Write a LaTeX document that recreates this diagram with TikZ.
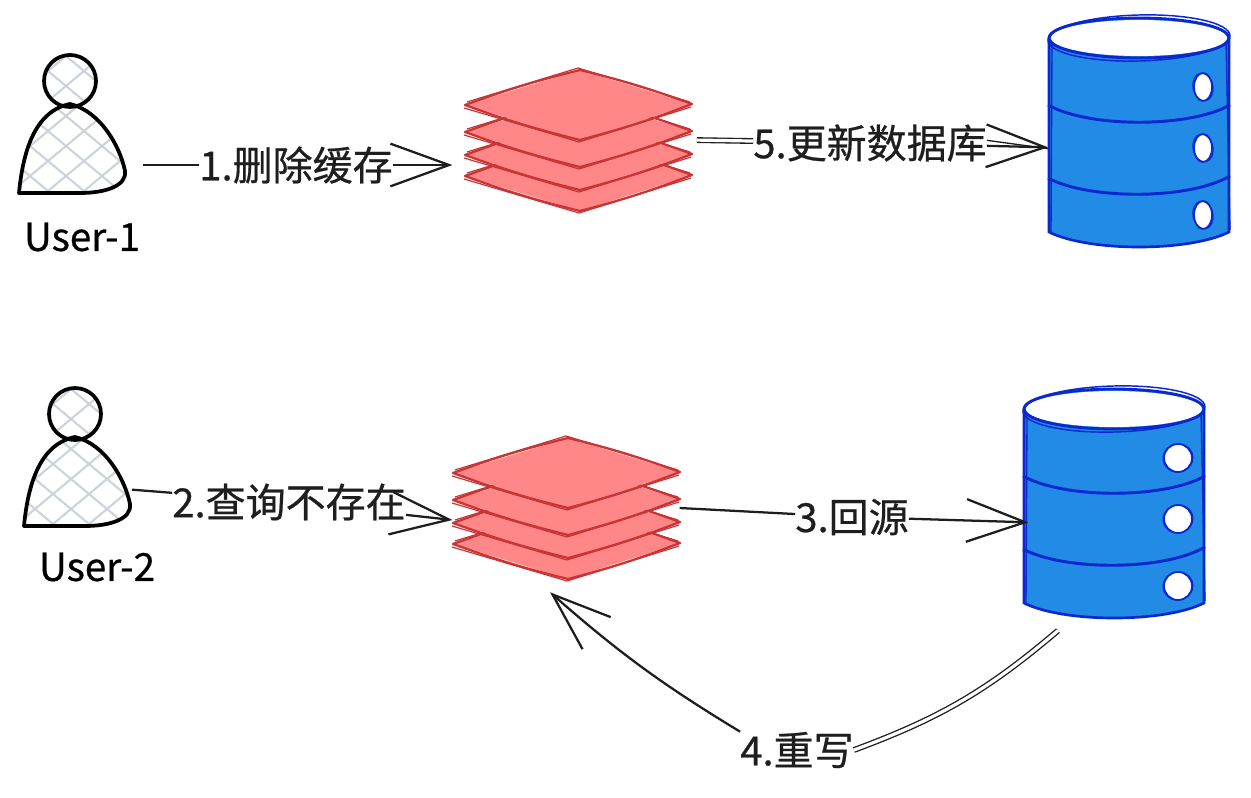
\documentclass[tikz,border=0pt]{standalone}
\usepackage{fontspec}
\setmainfont{Noto Sans CJK SC}
\newfontfamily\stepfont[FakeBold=0.6]{Noto Sans CJK SC}
\usetikzlibrary{arrows.meta, positioning}

\definecolor{inkblack}{HTML}{1E1E1E}
\definecolor{hatchgray}{HTML}{CDD3DB}
\definecolor{sheetfill}{HTML}{FF8787}
\definecolor{sheetline}{HTML}{CB3434}
\definecolor{canfill}{HTML}{228BE6}
\definecolor{canline}{HTML}{0B27CF}

\tikzset{
  personbox/.style={minimum width=82pt, minimum height=104pt, inner sep=0pt},
  stackbox/.style={minimum width=170pt, minimum height=108pt, inner sep=0pt},
  canbox/.style={minimum width=136pt, minimum height=172pt, inner sep=0pt},
  steplabel/.style={inner sep=0pt, text=inkblack, font=\stepfont\fontsize{30}{35}\selectfont},
  userlabel/.style={inner sep=0pt, text=black, font=\stepfont\fontsize{29}{34}\selectfont},
  link/.style={draw=inkblack, line width=1.7pt},
  linkarrow/.style={link, -{Straight Barb[length=44pt, width=32pt, line width=1.7pt]}},
  doublelink/.style={draw=inkblack, line width=1pt, double=white, double distance=2.4pt},
  person/.pic={
    \begin{scope}
      \clip (-2,-45) circle [radius=26];
      \foreach \k in {-240,-204,...,240} {
        \draw[hatchgray, line width=1.6pt] (\k-150,-150) -- (\k+150,100);
        \draw[hatchgray, line width=1.6pt] (\k+150,-150) -- (\k-150,100);
      }
    \end{scope}
    \begin{scope}
      \clip (-53,67) .. controls (-49,25) and (-37,-15) .. (-2,-22)
        .. controls (28,-15) and (48,20) .. (53,45)
        .. controls (55,60) and (33,67) .. (8,67) -- cycle;
      \foreach \k in {-240,-204,...,240} {
        \draw[hatchgray, line width=1.6pt] (\k-150,-150) -- (\k+150,100);
        \draw[hatchgray, line width=1.6pt] (\k+150,-150) -- (\k-150,100);
      }
    \end{scope}
    \draw[black, line width=2.8pt] (-2,-45) circle [radius=26];
    \draw[black, line width=2.8pt, line join=round]
      (-53,67) .. controls (-49,25) and (-37,-15) .. (-2,-22)
      .. controls (28,-15) and (48,20) .. (53,45)
      .. controls (55,60) and (33,67) .. (8,67) -- cycle;
  },
  sheetstack/.pic={
    \foreach \dy in {36,15,-8,-35} {
      \fill[sheetfill] (-113,\dy) -- (2,\dy-35) -- (114,\dy-1) -- (2,\dy+35) -- cycle;
      \draw[sheetline, line width=1.7pt, line join=round]
        (-113,\dy) to[bend left=3] (2,\dy-35) to[bend left=3] (114,\dy-1)
        to[bend left=3] (2,\dy+35) to[bend left=3] cycle;
      \draw[sheetline, line width=0.9pt]
        (-114,\dy+3) -- (1,\dy+37) -- (113,\dy+2);
      \draw[sheetline, line width=0.9pt]
        (-111,\dy-3) -- (0,\dy-37) -- (112,\dy-3);
    }
  },
  pics/datacan/.style n args={2}{code={
    \fill[canfill] (-90,-96) -- (-90,98) .. controls (-50,118) and (50,118) .. (90,98) -- (90,-96) -- cycle;
    \fill[canfill] (0,-96) ellipse [x radius=90, y radius=20];
    \fill[white] (0,-96) ellipse [x radius=88, y radius=18];
    \draw[canline, line width=2.1pt] (0,-96) ellipse [x radius=90, y radius=20];
    \draw[canline, line width=1.1pt, rotate around={1.5:(0,-96)}] (0,-96) ellipse [x radius=91, y radius=23];
    \draw[canline, line width=2pt] (-90,-96) -- (-90,98) .. controls (-50,118) and (50,118) .. (90,98) -- (90,-96);
    \draw[canline, line width=1pt] (-87,-90) -- (-88,100);
    \draw[canline, line width=1pt] (87,-92) -- (91,96);
    \draw[canline, line width=2.2pt] (-91,-29) .. controls (-50,-6) and (50,-6) .. (91,-29);
    \draw[canline, line width=2.2pt] (-91,44) .. controls (-50,66) and (50,66) .. (91,42);
    \foreach \hy in {-47,14,81} {
      \fill[white] (64,\hy) ellipse [x radius=#1, y radius=#2];
      \draw[canline, line width=1.3pt] (64,\hy) ellipse [x radius=#1, y radius=#2];
      \draw[canline, line width=0.8pt, rotate around={12:(64,\hy)}] (64,\hy) ellipse [x radius=#1+1, y radius=#2];
    }
  }},
}

\begin{document}
\begin{tikzpicture}[x=0.75pt, y=-0.75pt]
  \useasboundingbox (0,0) rectangle (1251,798);
  %
  \node [personbox] (user1) at (72,126) {};
  \node [personbox] (user2) at (77,459) {};
  \node [userlabel] (name1) at (82,237) {User-1};
  \node [userlabel] (name2) at (97,567) {User-2};
  \node [stackbox] (cache1) at (578,140) {};
  \node [stackbox] (cache2) at (566,508) {};
  \node [canbox] (db1) at (1139,134) {};
  \node [canbox] (db2) at (1114,505) {};
  %
  \pic at (user1) {person};
  \pic at (user2) {person};
  \pic at (cache1) {sheetstack};
  \pic at (cache2) {sheetstack};
  \pic at (db1) {datacan={9}{14}};
  \pic at (db2) {datacan={14}{14}};
  %
  \node [steplabel] (step1) at (296,165) {1.删除缓存};
  \node [steplabel] (step2) at (289,502) {2.查询不存在};
  \node [steplabel] (step3) at (852,517) {3.回源};
  \node [steplabel] (step4) at (797,750) {4.重写};
  \node [steplabel] (step5) at (870,143) {5.更新数据库};
  %
  \draw [link, shorten <=12pt] (user1.east |- step1) -- (step1);
  \draw [linkarrow, shorten >=9pt] (step1) -- (cache1.west |- step1);
  \draw [link] ([yshift=-23pt]user2.east) -- (step2);
  \draw [linkarrow] (step2) -- ([yshift=-9pt]cache2.west);
  \draw [link] (cache2.east) -- (step3);
  \draw [linkarrow] (step3) -- ([xshift=4pt, yshift=-13pt]db2.west);
  \draw [linkarrow] (step4.north west) to[bend left=5] ([xshift=-12pt, yshift=-9pt]cache2.south);
  \draw [doublelink] (step4.east) to[bend right=10] ([xshift=-42pt, yshift=-8pt]db2.south);
  \draw [doublelink, shorten <=4pt] (cache1.east) -- (step5);
  \draw [linkarrow] (step5) -- ([yshift=-10pt]db1.west);
  \draw [link, line width=1pt] ([yshift=2pt]step5.east) -- ([yshift=-11pt]db1.west);
  %
\end{tikzpicture}
\end{document}
